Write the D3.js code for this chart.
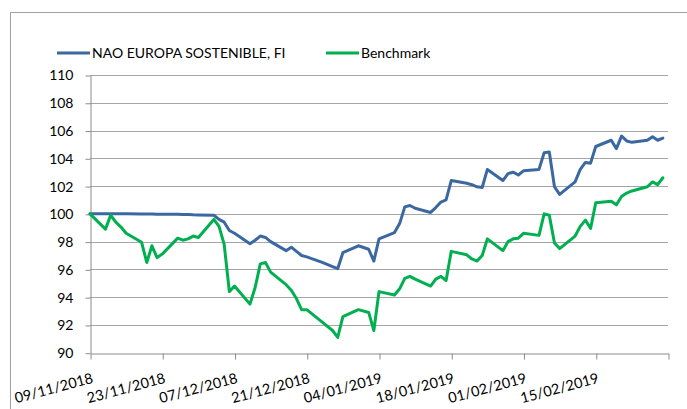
<!DOCTYPE html>
<html>
<head>
<meta charset="utf-8">
<script src="https://cdn.jsdelivr.net/npm/d3@7"></script>
<style>
  html, body { margin: 0; padding: 0; background: #fff; }
  svg { display: block; }
  text { font-family: "Lato", "Liberation Sans", sans-serif; fill: #000; }
</style>
</head>
<body>
<svg id="chart" width="687" height="409"></svg>
<script>
// Daily values (business days), base 100 on 09/11/2018
const dates = [
  "2018-11-09","2018-11-12","2018-11-13","2018-11-14","2018-11-15","2018-11-16",
  "2018-11-19","2018-11-20","2018-11-21","2018-11-22","2018-11-23",
  "2018-11-26","2018-11-27","2018-11-28","2018-11-29","2018-11-30",
  "2018-12-03","2018-12-04","2018-12-05","2018-12-06","2018-12-07",
  "2018-12-10","2018-12-11","2018-12-12","2018-12-13","2018-12-14",
  "2018-12-17","2018-12-18","2018-12-19","2018-12-20","2018-12-21",
  "2018-12-24","2018-12-26","2018-12-27","2018-12-28",
  "2018-12-31","2019-01-02","2019-01-03","2019-01-04",
  "2019-01-07","2019-01-08","2019-01-09","2019-01-10","2019-01-11",
  "2019-01-14","2019-01-15","2019-01-16","2019-01-17","2019-01-18",
  "2019-01-21","2019-01-22","2019-01-23","2019-01-24","2019-01-25",
  "2019-01-28","2019-01-29","2019-01-30","2019-01-31","2019-02-01",
  "2019-02-04","2019-02-05","2019-02-06","2019-02-07","2019-02-08",
  "2019-02-11","2019-02-12","2019-02-13","2019-02-14","2019-02-15",
  "2019-02-18","2019-02-19","2019-02-20","2019-02-21","2019-02-22",
  "2019-02-25","2019-02-26","2019-02-27","2019-02-28"
];

const fundValues = [
  100.00,100.00,100.00,100.00,100.00,100.00,
  99.99,99.99,99.99,99.98,99.98,
  99.97,99.96,99.95,99.93,99.92,
  99.90,99.60,99.40,98.80,98.60,
  97.85,98.10,98.40,98.30,98.00,
  97.35,97.60,97.30,97.00,96.90,
  96.50,96.20,96.05,97.20,
  97.70,97.45,96.60,98.20,
  98.65,99.30,100.50,100.60,100.40,
  100.10,100.45,100.85,101.00,102.40,
  102.20,102.10,101.95,101.90,103.20,
  102.40,102.90,103.00,102.80,103.10,
  103.20,104.40,104.45,101.95,101.40,
  102.30,103.20,103.70,103.65,104.85,
  105.30,104.70,105.60,105.25,105.15,
  105.30,105.55,105.30,105.45
];

const benchmarkValues = [
  100.00,98.90,99.90,99.40,99.05,98.60,
  97.95,96.50,97.70,96.85,97.10,
  98.25,98.10,98.20,98.40,98.30,
  99.60,99.10,97.80,94.40,94.80,
  93.50,94.70,96.40,96.50,95.80,
  94.90,94.50,93.90,93.10,93.10,
  92.20,91.60,91.10,92.60,
  93.10,92.90,91.60,94.40,
  94.15,94.60,95.35,95.50,95.30,
  94.80,95.30,95.50,95.20,97.30,
  97.05,96.75,96.60,97.00,98.20,
  97.35,98.00,98.20,98.25,98.60,
  98.45,100.00,99.90,97.90,97.50,
  98.40,99.10,99.55,98.95,100.80,
  100.90,100.65,101.25,101.50,101.65,
  101.95,102.30,102.10,102.60
];

const seriesNames = ["NAO EUROPA SOSTENIBLE, FI", "Benchmark"];
const seriesColors = ["#3B68A0", "#00B050"];

const xTickDates = ["2018-11-09","2018-11-23","2018-12-07","2018-12-21",
                    "2019-01-04","2019-01-18","2019-02-01","2019-02-15","2019-03-01"];
const xTickLabels = ["09/11/2018","23/11/2018","07/12/2018","21/12/2018",
                     "04/01/2019","18/01/2019","01/02/2019","15/02/2019",""];
const yTicks = [90, 92, 94, 96, 98, 100, 102, 104, 106, 108, 110];

const parse = d3.utcParse("%Y-%m-%d");
const svg = d3.select("#chart");

// chart frame
svg.append("rect")
  .attr("x", 10.5).attr("y", 12.5)
  .attr("width", 700).attr("height", 420)
  .attr("fill", "none").attr("stroke", "#a0a0a0").attr("stroke-width", 1);

const plot = { left: 90, right: 668, top: 75, bottom: 352.7 };

const x = d3.scaleUtc()
  .domain([parse("2018-11-09"), parse("2019-03-01")])
  .range([plot.left, plot.right]);
const y = d3.scaleLinear().domain([90, 110]).range([plot.bottom, plot.top]);

// horizontal gridlines
svg.append("g")
  .selectAll("line")
  .data(yTicks.filter(v => v !== 90))
  .join("line")
  .attr("x1", plot.left).attr("x2", plot.right)
  .attr("y1", d => Math.round(y(d)) + 0.5).attr("y2", d => Math.round(y(d)) + 0.5)
  .attr("stroke", "#a6a6a6").attr("stroke-width", 1);

// y axis
const yAxis = svg.append("g")
  .attr("transform", `translate(${plot.left + 0.5},0.5)`)
  .call(d3.axisLeft(y).tickValues(yTicks).tickSize(5).tickPadding(12).tickSizeOuter(0));
yAxis.select(".domain").attr("stroke", "#8c8c8c");
yAxis.selectAll(".tick line").attr("stroke", "#8c8c8c");
yAxis.selectAll(".tick text")
  .attr("font-size", 14).attr("font-family", "Lato, 'Liberation Sans', sans-serif")
  .attr("fill", "#000");

// x axis
const xAxis = svg.append("g")
  .attr("transform", `translate(0.5,${Math.round(plot.bottom) + 0.5})`)
  .call(d3.axisBottom(x)
    .tickValues(xTickDates.map(parse))
    .tickSize(6).tickSizeOuter(0)
    .tickFormat((d, i) => xTickLabels[i]));
xAxis.select(".domain").attr("stroke", "#8c8c8c");
xAxis.selectAll(".tick line").attr("stroke", "#8c8c8c");
xAxis.selectAll(".tick text")
  .attr("font-size", 14.5).attr("font-family", "Lato, 'Liberation Sans', sans-serif")
  .attr("fill", "#000")
  .attr("text-anchor", "end")
  .attr("dy", 0)
  .attr("y", 0)
  .attr("transform", "translate(3,29) rotate(-15)");

// series lines
const line = d3.line()
  .x(d => x(d.date))
  .y(d => y(d.value));

[fundValues, benchmarkValues].forEach((vals, k) => {
  const data = dates.map((s, i) => ({ date: parse(s), value: vals[i] }));
  svg.append("path")
    .datum(data)
    .attr("d", line)
    .attr("fill", "none")
    .attr("stroke", seriesColors[k])
    .attr("stroke-width", 3)
    .attr("stroke-linejoin", "round")
    .attr("stroke-linecap", "round");
});

// legend
const legendX = [57, 326];
seriesNames.forEach((name, k) => {
  const g = svg.append("g").attr("transform", `translate(${legendX[k]},53)`);
  g.append("line")
    .attr("x1", 0).attr("x2", 33).attr("y1", 0).attr("y2", 0)
    .attr("stroke", seriesColors[k]).attr("stroke-width", 3);
  g.append("text")
    .attr("x", 35).attr("y", 5)
    .attr("font-size", 14)
    .text(name);
});
</script>
</body>
</html>
